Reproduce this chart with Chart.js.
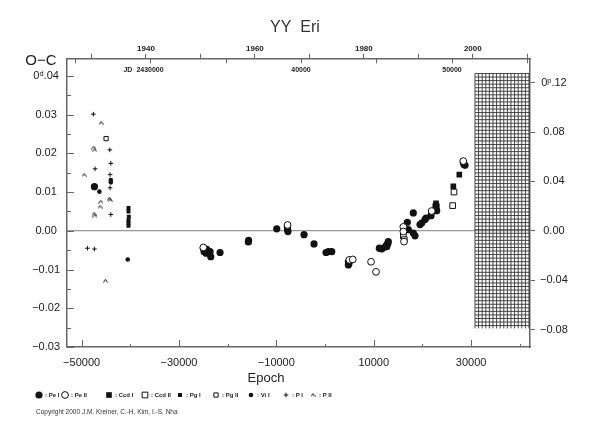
<!DOCTYPE html>
<html>
<head>
<meta charset="utf-8">
<script src="https://cdn.jsdelivr.net/npm/chart.js@4.4.0/dist/chart.umd.min.js"></script>
<style>body{margin:0;background:#fff}</style>
</head>
<body>
<canvas id="oc" width="590" height="425"></canvas>
<script>
// YY Eri O-C diagram: epoch vs O-C in days, right axis in phase

// ranges
const epochMin = -53000, epochMax = 42100;
const ocMin = -0.03, ocMax = 0.0444;
const phaseScale = 3.14;
const yearMin = 1925.5, yearMax = 2010.5;
const jdMin = 2424503, jdMax = 2455166;

// tick positions; only some of them get a label
const epochTicks = [-50000, -40000, -30000, -20000, -10000, 0, 10000, 20000, 30000, 40000];
const epochLabels = [-50000, -30000, -10000, 10000, 30000];
const ocTicks = [-0.03, -0.025, -0.02, -0.015, -0.01, -0.005, 0, 0.005, 0.01, 0.015, 0.02, 0.025, 0.03, 0.035, 0.04];
const phaseTicks = [-0.08, -0.04, 0, 0.04, 0.08, 0.12];
const yearTicks = [1930, 1940, 1950, 1960, 1970, 1980, 1990, 2000, 2010];
const yearLabels = [1940, 1960, 1980, 2000];
const jdTicks = [2425000, 2430000, 2435000, 2440000, 2445000, 2450000, 2455000];
const jdLabels = { 2430000: '2430000', 2440000: '40000', 2450000: '50000' };

// "future" hatched box
const hatchEpoch = 30800, hatchTop = 0.0406, hatchBottom = -0.0252;

const seriesNames = ['Pe I', 'Pe II', 'Ccd I', 'Ccd II', 'Pg I', 'Pg II', 'Vi I', 'P I', 'P II'];

// [epoch, O-C]
const peI = [
  [-47370, 0.0114],
  [-24990, -0.0045], [-24840, -0.0054], [-24430, -0.0058], [-23610, -0.0054], [-23470, -0.0067], [-24300, -0.0048],
  [-21560, -0.0056], [-15750, -0.0029], [-15700, -0.0025],
  [-9920, 0.0005], [-7740, 0.0011], [-7700, 0.0004], [-7620, -0.0002],
  [-4310, -0.0010], [-2260, -0.0034],
  [200, -0.0056], [680, -0.0054], [1380, -0.0054],
  [4790, -0.0080], [4790, -0.0088], [4930, -0.0084],
  [11150, -0.0045], [11640, -0.0047], [12320, -0.0042], [12670, -0.0041], [12870, -0.0034], [13000, -0.0028], [12670, -0.0036],
  [16900, 0.0022], [17110, 0.0003], [18130, 0.0046], [18130, -0.0006], [18480, -0.0013],
  [19510, 0.0016], [19850, 0.0020], [20530, 0.0029], [20740, 0.0033],
  [21770, 0.0039], [21910, 0.0049], [22800, 0.0059], [22930, 0.0052], [22800, 0.0066],
  [28400, 0.0176], [28540, 0.0171], [28750, 0.0169]
];
const peII = [
  [-25000, -0.0043], [-7700, 0.0015], [4990, -0.0075], [5690, -0.0074], [9450, -0.0080], [10470, -0.0106],
  [16080, 0.0010], [16100, -0.0002], [16220, -0.0028], [21910, 0.0051], [28400, 0.0180]
];
const ccdI = [[22800, 0.0071], [26350, 0.0115], [27580, 0.0145]];
const ccdII = [[16080, -0.0013], [16280, -0.0023], [26220, 0.0065], [26490, 0.0100]];
const pgI = [[-40370, 0.0059], [-40370, 0.0050], [-40300, 0.0036], [-40370, 0.0027], [-40370, 0.0020], [-40370, 0.0013]];
const pgII = [[-44970, 0.0238]];
const viI = [[-44000, 0.0131], [-44000, 0.0125], [-46340, 0.0101], [-40520, -0.0074]];
const pI = [
  [-47580, 0.0301], [-44210, 0.0209], [-47230, 0.0160], [-44150, 0.0111], [-44000, 0.0042],
  [-44150, 0.0145], [-44000, 0.0174], [-48800, -0.0045], [-47370, -0.0047], [-50700, -0.0390]
];
const pII = [
  [-46000, 0.0278], [-47500, 0.0215], [-47300, 0.0208], [-49490, 0.0144], [-46060, 0.0075], [-46200, 0.0062],
  [-44290, 0.0083], [-44150, 0.0079], [-47430, 0.0044], [-47300, 0.0039], [-45110, -0.0129]
];

const ink = '#222';
const frame = '#666';

// little caret used as the P II marker
const caret = document.createElement('canvas');
caret.width = 5; caret.height = 4;
const cc = caret.getContext('2d');
cc.strokeStyle = '#111'; cc.lineWidth = 1;
cc.beginPath(); cc.moveTo(0.5, 3.5); cc.lineTo(2.5, 0.5); cc.lineTo(4.5, 3.5); cc.stroke();

const pts = arr => arr.map(p => ({ x: p[0], y: p[1] }));
const setTicks = list => s => { s.ticks = list.map(v => ({ value: v })); };

function sign(v) { return v < -1e-9 ? '\u2212' : ''; }
function fmtOC(v) {
  if (Math.abs(v - 0.04) < 1e-9) return '0\u1D48.04';
  return sign(v) + Math.abs(v).toFixed(2);
}
function fmtPhase(v) {
  if (Math.abs(v - 0.12) < 1e-9) return '0\u1D56.12';
  return sign(v) + Math.abs(v).toFixed(2);
}
const isHundredth = v => Math.abs(v * 100 - Math.round(v * 100)) < 1e-6;

function mk(i, data, style, radius, fill, border, order) {
  return {
    label: seriesNames[i], data: pts(data), pointStyle: style, pointRadius: radius, pointHoverRadius: radius,
    pointBackgroundColor: fill, pointBorderColor: '#111', pointBorderWidth: border, order: order,
    xAxisID: 'x', yAxisID: 'y'
  };
}

const datasets = [
  mk(0, peI, 'circle', 3.6, '#111', 0, 2),
  mk(1, peII, 'circle', 3.4, '#fff', 1, 0),
  mk(2, ccdI, 'rect', 4, '#111', 0, 1),
  mk(3, ccdII, 'rect', 4, '#fff', 1, 1),
  mk(4, pgI, 'rect', 2.8, '#111', 0, 1),
  mk(5, pgII, 'rect', 3, '#fff', 1, 1),
  mk(6, viI, 'circle', 2.3, '#111', 0, 1),
  mk(7, pI, 'cross', 2.3, '#111', 1, 1),
  mk(8, pII, caret, 2.5, '#111', 0, 1)
];
datasets[7].clip = false;

const legendX = [39, 65, 109, 145, 180, 216, 251, 286, 313];

const decor = {
  id: 'decor',
  beforeDatasetsDraw(chart) {
    const { ctx, scales: { x, y } } = chart;
    const x0 = x.getPixelForValue(hatchEpoch), x1 = chart.chartArea.right;
    const y0 = y.getPixelForValue(hatchTop), y1 = y.getPixelForValue(hatchBottom);
    ctx.save();
    ctx.strokeStyle = '#333';
    ctx.lineWidth = 0.9;
    ctx.beginPath();
    for (let px = x0; px <= x1 + 0.1; px += 3.6) { ctx.moveTo(px, y0); ctx.lineTo(px, y1); }
    for (let py = y0; py <= y1 + 0.1; py += 3.55) { ctx.moveTo(x0, py); ctx.lineTo(x1, py); }
    ctx.stroke();
    ctx.restore();
  },
  afterDraw(chart) {
    const { ctx, chartArea: a, scales: { x, y, jd } } = chart;
    ctx.save();
    // inner tick marks
    ctx.strokeStyle = frame;
    ctx.lineWidth = 1;
    ctx.beginPath();
    x.ticks.forEach(t => {
      const px = Math.round(x.getPixelForValue(t.value)) + 0.5;
      ctx.moveTo(px, a.bottom); ctx.lineTo(px, a.bottom - (t.label ? 7 : 3));
    });
    y.ticks.forEach(t => {
      const py = Math.round(y.getPixelForValue(t.value)) + 0.5;
      ctx.moveTo(a.left, py); ctx.lineTo(a.left + (t.label ? 7 : 4), py);
    });
    jdTicks.forEach(v => {
      const px = Math.round(jd.getPixelForValue(v)) + 0.5;
      ctx.moveTo(px, a.top); ctx.lineTo(px, a.top + 4.5);
    });
    ctx.stroke();

    // JD labels
    ctx.fillStyle = ink;
    ctx.font = 'bold 7px "Liberation Sans", Arial, sans-serif';
    ctx.textBaseline = 'middle';
    Object.keys(jdLabels).forEach(k => {
      const px = jd.getPixelForValue(+k);
      ctx.textAlign = 'center';
      ctx.fillText(jdLabels[k], px, 70.5);
      if (+k === 2430000) {
        ctx.textAlign = 'right';
        ctx.fillText('JD', px - ctx.measureText(jdLabels[k]).width / 2 - 4, 70.5);
      }
    });

    // axis names
    ctx.textAlign = 'center';
    ctx.font = '15px "Liberation Sans", Arial, sans-serif';
    ctx.fillText('O\u2212C', 41, 61);
    ctx.font = '13px "Liberation Sans", Arial, sans-serif';
    ctx.fillText('Epoch', 266, 378);

    // legend
    chart.data.datasets.forEach((ds, i) => {
      const sx = legendX[i], sy = 395;
      ctx.fillStyle = ds.pointBackgroundColor;
      ctx.strokeStyle = ds.pointBorderColor;
      ctx.lineWidth = ds.pointBorderWidth;
      Chart.helpers.drawPoint(ctx, { pointStyle: ds.pointStyle, radius: ds.pointRadius, borderWidth: ds.pointBorderWidth, rotation: 0 }, sx, sy);
      ctx.fillStyle = ink;
      ctx.textAlign = 'left';
      ctx.font = 'bold 6px "Liberation Sans", Arial, sans-serif';
      ctx.fillText(': ' + ds.label, sx + 6, sy);
    });

    // credit line
    ctx.fillStyle = '#333';
    ctx.font = '6.5px "Liberation Sans", Arial, sans-serif';
    ctx.fillText('Copyright 2000 J.M. Kreiner, C.-H. Kim, I.-S. Nha', 36, 412);
    ctx.restore();
  }
};

Chart.defaults.font.family = '"Liberation Sans", Arial, sans-serif';
Chart.defaults.color = ink;

new Chart(document.getElementById('oc'), {
  type: 'scatter',
  data: { datasets: datasets },
  plugins: [decor],
  options: {
    responsive: false,
    animation: false,
    layout: { padding: 0 },
    plugins: {
      legend: { display: false },
      tooltip: { enabled: false },
      title: {
        display: true, text: 'YY  Eri', color: '#333',
        font: { size: 16, weight: 'normal' },
        padding: { top: 18, bottom: 2 }
      }
    },
    scales: {
      x: {
        type: 'linear', position: 'bottom', min: epochMin, max: epochMax,
        afterBuildTicks: setTicks(epochTicks),
        afterFit: s => { s.height = 78; },
        grid: { display: false, drawTicks: false },
        border: { display: true, color: frame, width: 1.5 },
        ticks: {
          autoSkip: false, maxRotation: 0, padding: 9, color: ink, font: { size: 11 },
          callback: v => epochLabels.includes(v) ? sign(v) + Math.abs(v) : ''
        }
      },
      y: {
        type: 'linear', position: 'left', min: ocMin, max: ocMax,
        afterBuildTicks: setTicks(ocTicks),
        afterFit: s => { s.width = 67; },
        grid: {
          drawTicks: false, lineWidth: 1.2,
          color: c => (c.tick && Math.abs(c.tick.value) < 1e-9) ? '#999' : 'rgba(0,0,0,0)'
        },
        border: { display: true, color: frame, width: 1.5 },
        ticks: {
          autoSkip: false, crossAlign: 'center', padding: 7, color: ink, font: { size: 11 },
          callback: v => isHundredth(v) ? fmtOC(v) : ''
        }
      },
      y2: {
        type: 'linear', position: 'right', min: ocMin * phaseScale, max: ocMax * phaseScale,
        afterBuildTicks: setTicks(phaseTicks),
        afterFit: s => { s.width = 60; },
        grid: { drawOnChartArea: false, drawTicks: true, tickLength: 5, color: frame },
        border: { display: true, color: frame, width: 1.5 },
        ticks: {
          autoSkip: false, crossAlign: 'center', padding: 5, color: ink, font: { size: 11 },
          callback: v => fmtPhase(v)
        }
      },
      xTop: {
        type: 'linear', position: 'top', min: yearMin, max: yearMax,
        afterBuildTicks: setTicks(yearTicks),
        afterFit: s => { s.height = 19.6; },
        grid: { drawOnChartArea: false, drawTicks: true, tickLength: 5, color: frame },
        border: { display: true, color: frame, width: 1.5 },
        ticks: {
          autoSkip: false, maxRotation: 0, padding: 0, color: ink, font: { size: 8, weight: 'bold' },
          callback: v => yearLabels.includes(v) ? String(v) : ''
        }
      },
      jd: { type: 'linear', position: 'top', display: false, min: jdMin, max: jdMax }
    }
  }
});
</script>
</body>
</html>
